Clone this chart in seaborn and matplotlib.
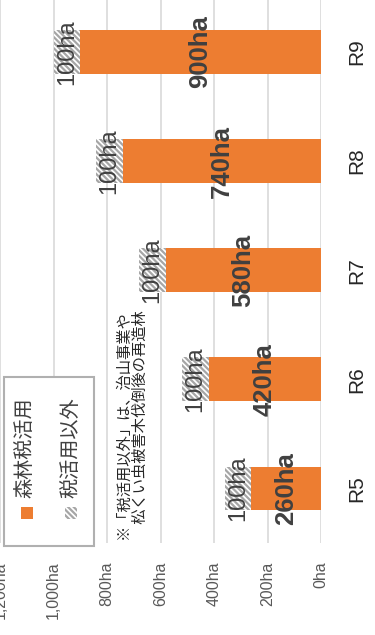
import matplotlib
matplotlib.use("Agg")
import matplotlib.pyplot as plt
import seaborn as sns
import pandas as pd
from matplotlib.patches import Rectangle

# ---- data ----
categories = ["R5", "R6", "R7", "R8", "R9"]
forest_tax = [260, 420, 580, 740, 900]      # 森林税活用
other_use = [100, 100, 100, 100, 100]       # 税活用以外
value_ticks = [0, 200, 400, 600, 800, 1000, 1200]
value_tick_labels = ["0ha", "200ha", "400ha", "600ha", "800ha", "1,000ha", "1,200ha"]
series_names = ["森林税活用", "税活用以外"]
note_text = "※「税活用以外」は、治山事業や\n\u3000松くい虫被害木伐倒後の再造林"

sns.set_theme(style="white")
plt.rcParams["font.family"] = ["Liberation Sans", "Noto Sans CJK JP", "DejaVu Sans"]
plt.rcParams["hatch.linewidth"] = 1.6

W, H = 375, 635
fig = plt.figure(figsize=(W / 100, H / 100), dpi=100)

def fx(px):
    return px / W

def fy(py):
    return 1 - py / H

ORANGE = "#ED7D31"
HATCH_GRAY = "#a6a6a6"

# axes: x 0..321 px, y -2.5..543 px
ax = fig.add_axes([fx(0), fy(543), fx(321), (543 + 2.6) / H])

df = pd.DataFrame({
    "cat": categories,
    "forest": forest_tax,
    "other": other_use,
})
df["total"] = df["forest"] + df["other"]
order = categories[::-1]

sns.barplot(data=df, x="total", y="cat", order=order, orient="h", ax=ax,
            color="white", edgecolor=HATCH_GRAY, hatch="\\\\\\\\\\\\", linewidth=0,
            width=0.4, saturation=1)
sns.barplot(data=df, x="forest", y="cat", order=order, orient="h", ax=ax,
            color=ORANGE, linewidth=0, width=0.4, saturation=1)

ax.set_xlim(1200, 0)
ax.set_ylim(len(categories) - 0.5, -0.5)
ax.set_xticks(value_ticks)
ax.set_xticklabels(value_tick_labels, rotation=90, fontsize=11.5, color="#595959")
ax.tick_params(axis="x", length=0, pad=13.5)
ax.yaxis.tick_right()
ax.set_yticks(range(len(order)))
ax.set_yticklabels(order, rotation=90, fontsize=15, color="#262626", va="center")
ax.tick_params(axis="y", length=0, pad=19)
ax.set_xlabel("")
ax.set_ylabel("")
for s in ax.spines.values():
    s.set_visible(False)
ax.grid(axis="x", color="#d9d9d9", linewidth=1.2)
ax.set_axisbelow(True)

# data labels
for cat, f, o in zip(categories, forest_tax, other_use):
    yi = order.index(cat)
    ax.text(f / 2, yi, f"{f}ha", rotation=90, ha="center", va="center",
            fontsize=18.5, fontweight="bold", color="#404040")
    ax.text(f + o / 2, yi, f"{o}ha", rotation=90, ha="center", va="center",
            fontsize=17, color="#404040")

# legend (drawn manually, rotated)
fig.patches.append(Rectangle((fx(4), fy(546)), fx(94) - fx(4), fy(377) - fy(546),
                             transform=fig.transFigure, facecolor="white",
                             edgecolor="#b0b0b0", linewidth=1.5, zorder=5))
fig.patches.append(Rectangle((fx(21), fy(519)), fx(12), fy(507) - fy(519),
                             transform=fig.transFigure, facecolor=ORANGE,
                             edgecolor="none", zorder=6))
fig.patches.append(Rectangle((fx(65), fy(519)), fx(12), fy(507) - fy(519),
                             transform=fig.transFigure, facecolor="white",
                             edgecolor=HATCH_GRAY, hatch="\\\\\\\\\\\\", linewidth=0, zorder=6))
fig.text(fx(25), fy(498), series_names[0], rotation=90, ha="center", va="bottom",
         fontsize=14.5, color="#404040", zorder=7)
fig.text(fx(71), fy(498), series_names[1], rotation=90, ha="center", va="bottom",
         fontsize=14.5, color="#404040", zorder=7)

# note
fig.text(fx(116), fy(539), note_text, rotation=90, ha="left", va="bottom",
         fontsize=11, color="#262626", linespacing=1.25, zorder=7)

fig.savefig("out.png", dpi=100)
